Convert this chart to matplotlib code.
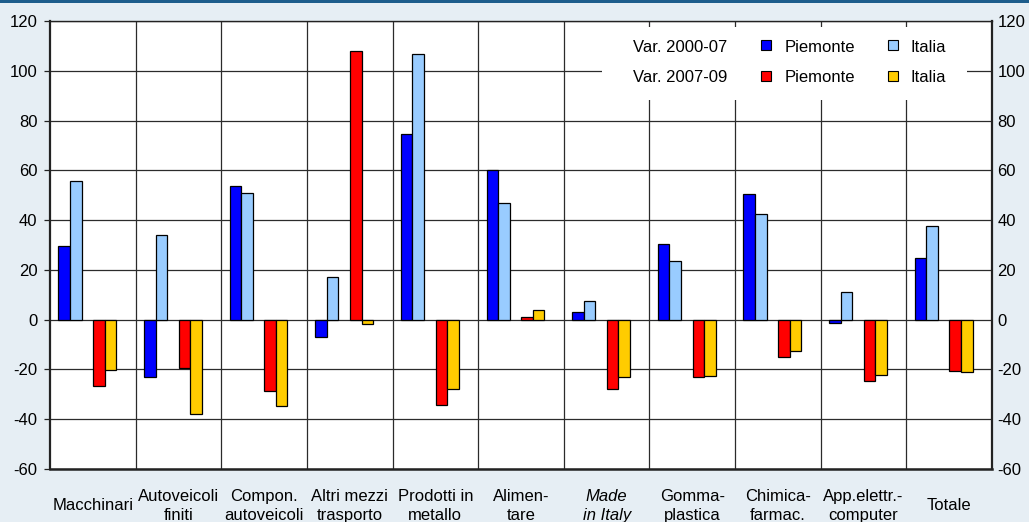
import numpy as np
import matplotlib.pyplot as plt
from matplotlib.patches import Rectangle
from matplotlib.transforms import blended_transform_factory

plt.rcParams['font.family'] = ['Liberation Sans', 'DejaVu Sans']

W_PX, H_PX = 1029, 522
DPI = 100
FS = 12

categories = ['Macchinari', 'Autoveicoli\nfiniti', 'Compon.\nautoveicoli',
              'Altri mezzi\ntrasporto', 'Prodotti in\nmetallo', 'Alimen-\ntare',
              'Made\nin Italy', 'Gomma-\nplastica', 'Chimica-\nfarmac.',
              'App.elettr.-\ncomputer', 'Totale']

piemonte_00_07 = [29.4, -23.0, 53.6, -6.9, 74.5, 60.2, 3.1, 30.3, 50.4, -1.2, 24.8]
italia_00_07 = [55.9, 33.9, 50.7, 17.3, 106.9, 47.0, 7.5, 23.6, 42.6, 11.3, 37.6]
piemonte_07_09 = [-26.5, -19.4, -28.5, 108.0, -34.3, 1.1, -27.7, -23.0, -14.8, -24.5, -20.5]
italia_07_09 = [-20.3, -38.0, -34.5, -1.6, -27.8, 3.8, -22.9, -22.6, -12.7, -22.1, -20.9]

yticks = [-60, -40, -20, 0, 20, 40, 60, 80, 100, 120]

C_BLUE = '#0000ff'
C_LBLUE = '#99ccff'
C_RED = '#ff0000'
C_YELLOW = '#ffcc00'
BG = '#e6eef4'
GRID = '#2b2b2b'

fig = plt.figure(figsize=(W_PX / DPI, H_PX / DPI), dpi=DPI)
fig.patch.set_facecolor(BG)


def fx(px):
    return px / W_PX


def fy(py):
    return 1 - py / H_PX


# plot area in pixels: x 50..992, y 21..469
ax = fig.add_axes([fx(50), fy(469), fx(992) - fx(50), fy(21) - fy(469)])
ax.set_facecolor('white')

n = len(categories)
idx = np.arange(n)
bw = 0.135
# five slots per category, the middle one left empty
offsets = [0.098, 0.233, 0.503, 0.638]
series = [(piemonte_00_07, C_BLUE), (italia_00_07, C_LBLUE),
          (piemonte_07_09, C_RED), (italia_07_09, C_YELLOW)]
for off, (vals, col) in zip(offsets, series):
    ax.bar(idx + off, vals, width=bw, align='edge', color=col,
           edgecolor='black', linewidth=0.9, zorder=3)

ax.set_xlim(0, n)
ax.set_ylim(-60, 120)
ax.set_yticks(yticks)
ax.set_yticklabels([str(t) for t in yticks])
ax.set_xticks([])

# gridlines: horizontal at ticks, vertical at category boundaries
for t in yticks:
    ax.axhline(t, color=GRID, linewidth=0.9, zorder=1)
for b in range(1, n):
    ax.axvline(b, color=GRID, linewidth=0.9, zorder=1)

for s in ax.spines.values():
    s.set_color('#222222')
    s.set_linewidth(1.0)
ax.spines['left'].set_linewidth(1.6)
ax.spines['bottom'].set_linewidth(1.8)
ax.spines['right'].set_linewidth(1.6)

ax.tick_params(axis='y', direction='out', length=4, width=0.9, color='#222222',
               labelsize=FS, pad=5, left=True, right=True,
               labelleft=True, labelright=False)

ax2 = ax.twinx()
ax2.set_ylim(ax.get_ylim())
ax2.set_yticks(yticks)
ax2.set_yticklabels([str(t) for t in yticks])
ax2.tick_params(axis='y', direction='out', length=0, labelsize=FS, pad=4)
for s in ax2.spines.values():
    s.set_visible(False)

# category labels below the plot
lab_tr = blended_transform_factory(ax.transData, fig.transFigure)
for i, lab in enumerate(categories):
    style = 'italic' if lab.startswith('Made') else 'normal'
    ax.text(i + 0.5, fy(506), lab, transform=lab_tr,
            ha='center', va='center', fontsize=FS, linespacing=1.3,
            fontstyle=style, clip_on=False)

# legend drawn on a full-figure overlay in pixel units
ax_leg = fig.add_axes([0, 0, 1, 1], facecolor='none')
ax_leg.set_xlim(0, W_PX)
ax_leg.set_ylim(H_PX, 0)
ax_leg.axis('off')
ax_leg.add_patch(Rectangle((602, 27), 365, 73, facecolor='white', edgecolor='none'))
rows = [('Var. 2000-07', C_BLUE, C_LBLUE, 47), ('Var. 2007-09', C_RED, C_YELLOW, 78)]
for label, c1, c2, yy in rows:
    ax_leg.text(727, yy, label, ha='right', va='center', fontsize=FS)
    ax_leg.add_patch(Rectangle((761, yy - 7), 10, 10, facecolor=c1,
                               edgecolor='black', linewidth=0.8))
    ax_leg.text(785, yy, 'Piemonte', ha='left', va='center', fontsize=FS)
    ax_leg.add_patch(Rectangle((888, yy - 7), 10, 10, facecolor=c2,
                               edgecolor='black', linewidth=0.8))
    ax_leg.text(910, yy, 'Italia', ha='left', va='center', fontsize=FS)

# dark band along the top edge
ax_leg.add_patch(Rectangle((0, 0), W_PX, 3, facecolor='#1d5d8c', edgecolor='none'))

fig.savefig('out.png', dpi=DPI, facecolor=fig.get_facecolor())
